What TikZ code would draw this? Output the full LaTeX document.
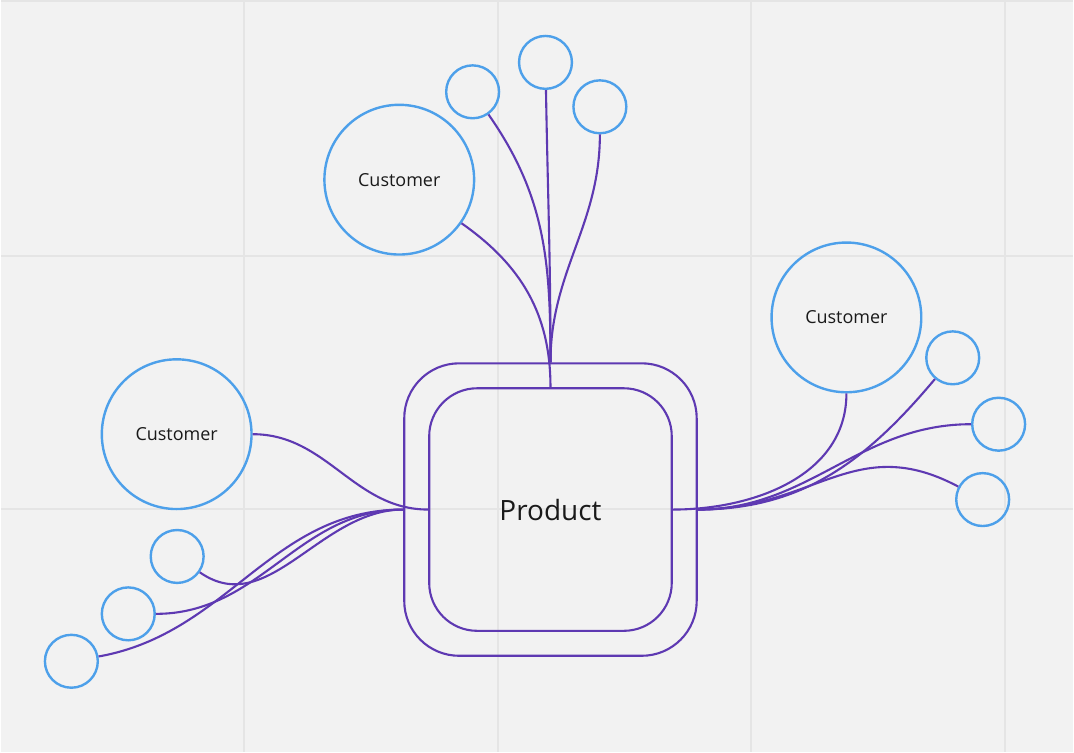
\documentclass[tikz,border=0pt]{standalone}
\usepackage{fontspec}
\setmainfont{Open Sans}
\definecolor{bgGray}{RGB}{242, 242, 242}
\definecolor{gridGray}{RGB}{229, 229, 229}
\definecolor{custBlue}{RGB}{77, 160, 234}
\definecolor{linkPurple}{RGB}{94, 57, 178}
\definecolor{textBlack}{RGB}{26, 26, 26}
\usetikzlibrary{positioning}

\begin{document}
\begin{tikzpicture}[
    x=1pt, y=1pt,
    customer/.style={circle, draw=custBlue, line width=2.4pt, inner sep=0pt,
                     minimum size=150pt, text=textBlack,
                     font=\fontsize{18}{21}\selectfont},
    touch/.style={circle, draw=custBlue, line width=2.4pt, inner sep=0pt,
                  minimum size=53pt},
    box/.style={rectangle, draw=linkPurple, line width=2.1pt, inner sep=0pt},
    link/.style={draw=linkPurple, line width=2.1pt},
    gridline/.style={draw=gridGray, line width=2pt},
  ]
    % Background and grid
    \fill[bgGray] (0,0) rectangle (1074,-752);
    \foreach \gx in {243.5, 497.5, 751.5, 1005.5}
      \draw[gridline] (\gx,0) -- (\gx,-752);
    \foreach \gy in {-0.5, -255, -509}
      \draw[gridline] (0,\gy) -- (1074,\gy);

    % Product
    \node[box, minimum size=293pt, rounded corners=55pt] (outer) at (550.5,-509.5) {};
    \node[box, minimum size=243pt, rounded corners=48pt, text=textBlack,
          font=\fontsize{28}{33}\selectfont] (product) at (550.5,-509.5) {Product};

    % Top cluster
    \node[customer] (custT) at (399,-179) {Customer};
    \node[touch] (t1) at (472.5,-91) {};
    \node[touch] (t2) at (545.5,-61.5) {};
    \node[touch] (t3) at (600,-106) {};
    \draw[link] (custT) to[out=-35, in=90] (product);
    \draw[link] (t1) to[out=-55, in=90] (outer);
    \draw[link] (t2) to[out=-89, in=90] (outer);
    \draw[link] (t3) to[out=-90, in=90] (outer);

    % Left cluster
    \node[customer] (custL) at (176,-434) {Customer};
    \node[touch] (l1) at (176.5,-556.5) {};
    \node[touch] (l2) at (127.5,-614) {};
    \node[touch] (l3) at (70.5,-661.5) {};
    \draw[link] (custL) to[out=0, in=180] (product);
    \draw[link] (l1) to[out=-35, in=180] (outer);
    \draw[link] (l2) to[out=0, in=180] (outer);
    \draw[link] (l3) to[out=10, in=180] (outer);

    % Right cluster
    \node[customer] (custR) at (847,-317) {Customer};
    \node[touch] (r1) at (953.5,-357.5) {};
    \node[touch] (r2) at (999.5,-424) {};
    \node[touch] (r3) at (983.5,-499.5) {};
    \draw[link] (custR) to[out=-90, in=0] (product);
    \draw[link] (r1) to[out=-130, in=0] (outer);
    \draw[link] (r2) to[out=180, in=0] (outer);
    \draw[link] (r3) to[out=152, in=0, looseness=1.15] (outer);
  \end{tikzpicture}
\end{document}
